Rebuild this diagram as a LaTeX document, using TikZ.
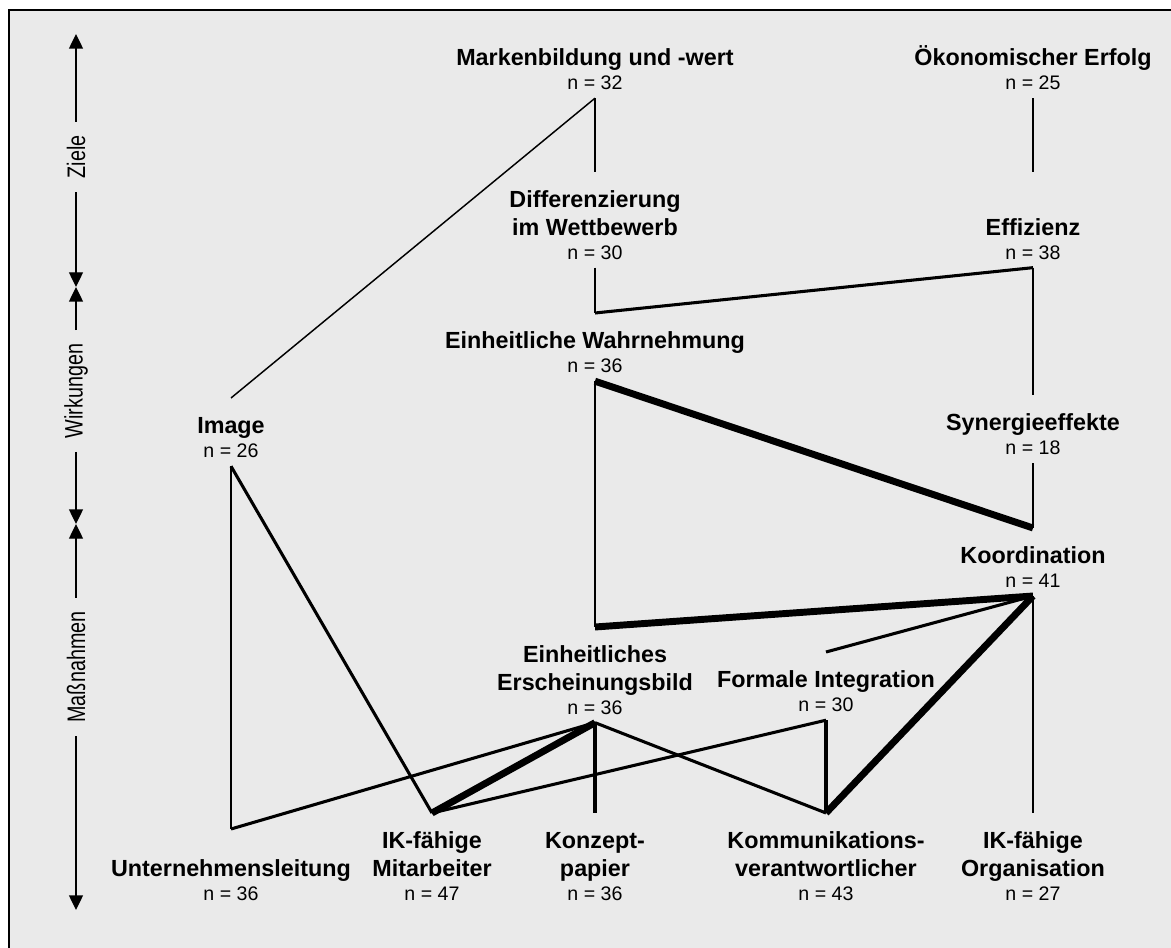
\documentclass[tikz,border=0pt]{standalone}
\usepackage{fontspec}
\setmainfont{Liberation Sans}
\usetikzlibrary{arrows.meta}
\definecolor{panelgray}{HTML}{EAEAEA}
\newcommand{\ttlfont}{\fontsize{17.5}{20.6}\selectfont\bfseries}
\newcommand{\lift}{\rule{0pt}{20.5pt}}
\newcommand{\nv}[1]{\\[-2.5pt]{\fontsize{14.7}{17}\selectfont\mdseries n = #1}}
\newcommand{\narrow}[1]{\scalebox{0.78}[1]{#1}}
\tikzset{
  lbl/.style={anchor=north, align=center, inner xsep=0pt, inner ysep=6pt, font=\ttlfont},
  axlbl/.style={rotate=90, font=\fontsize{19}{22}\selectfont, inner xsep=10pt, inner ysep=0pt},
  axarrow/.style={-{Triangle[length=11pt,width=10.5pt]}, line width=1pt},
  lnthin/.style={line width=1.1pt},
  lnmid/.style={line width=2.3pt},
  lnbold/.style={line width=5.2pt}
}

\begin{document}
\begin{tikzpicture}[x=0.75pt, y=-0.75pt]
  \useasboundingbox (0,0) rectangle (1171,948);
  \clip (0,0) rectangle (1171,948);
  \fill[white] (0,0) rectangle (1171,948);
  \draw[fill=panelgray, line width=1pt] (9,10) rectangle (1190,970);

  % Achse links
  \coordinate (axtop) at (76,34);
  \coordinate (axzw) at (76,287);
  \coordinate (axwm) at (76,524);
  \coordinate (axbot) at (76,910);
  \node[axlbl] (ziele) at (76,157) {\narrow{Ziele}};
  \node[axlbl] (wirk) at (76,391) {\narrow{Wirkungen}};
  \node[axlbl] (mass) at (76,667) {\narrow{Maßnahmen}};
  \draw[axarrow] (ziele) -- (axtop);
  \draw[axarrow] (ziele) -- (axzw);
  \draw[axarrow] (wirk) -- (axzw);
  \draw[axarrow] (wirk) -- (axwm);
  \draw[axarrow] (mass) -- (axwm);
  \draw[axarrow] (mass) -- (axbot);

  % Ziele
  \node[lbl] (mb) at (595,30) {\lift Markenbildung und -wert\nv{32}};
  \node[lbl] (oe) at (1033,30) {\lift Ökonomischer Erfolg\nv{25}};
  \node[lbl] (dw) at (595,172) {\lift Differenzierung\\im Wettbewerb\nv{30}};
  \node[lbl] (ef) at (1033,172) {\lift\\Effizienz\nv{38}};

  % Wirkungen
  \node[lbl] (ew) at (595,313) {\lift Einheitliche Wahrnehmung\nv{36}};
  \node[lbl] (im) at (231,398) {\lift Image\nv{26}};
  \node[lbl] (sy) at (1033,395) {\lift Synergieeffekte\nv{18}};

  % Massnahmen
  \node[lbl] (ko) at (1033,528) {\lift Koordination\nv{41}};
  \node[lbl] (eb) at (595,627) {\lift Einheitliches\\Erscheinungsbild\nv{36}};
  \node[lbl] (fi) at (826,652) {\lift Formale Integration\nv{30}};
  \node[lbl] (ul) at (231,841) {\lift Unternehmensleitung\nv{36}};
  \node[lbl] (ma) at (432,813) {\lift IK-fähige\\Mitarbeiter\nv{47}};
  \node[lbl] (kp) at (595,813) {\lift Konzept-\\papier\nv{36}};
  \node[lbl] (kv) at (826,813) {\lift Kommunikations-\\verantwortlicher\nv{43}};
  \node[lbl] (io) at (1033,813) {\lift IK-fähige\\Organisation\nv{27}};

  % Verbindungen
  \draw[lnthin] (mb.south) -- (im.north);
  \draw[lnthin] (mb.south) -- (dw.north);
  \draw[lnthin] (oe.south) -- (ef.north);
  \draw[lnthin] (ef.south) -- (sy.north);
  \draw[lnthin] (sy.south) -- (ko.north);
  \draw[lnthin] (ko.south) -- (io.north);
  \draw[lnthin] (dw.south) -- (ew.north);
  \draw[line width=1.5pt] (im.south) -- ([yshift=9pt]ul.north);
  \draw[line width=1.5pt] (ew.south) -- (eb.north);
  \draw[lnmid] (ew.north) -- (ef.south);
  \draw[lnmid] (fi.north) -- (ko.south);
  \draw[lnmid] (fi.south) -- (kv.north);
  \draw[lnmid] (eb.south) -- (kv.north);
  \draw[lnmid] (eb.south) -- ([yshift=9pt]ul.north);
  \draw[lnmid] (fi.south) -- (ma.north);
  \draw[lnmid] (im.south) -- (ma.north);
  \draw[line width=3.2pt] (eb.south) -- (kp.north);
  \draw[lnbold] (ew.south) -- (ko.north);
  \draw[lnbold] (eb.north) -- (ko.south);
  \draw[lnbold] (ko.south) -- (kv.north);
  \draw[lnbold] (eb.south) -- (ma.north);
\end{tikzpicture}
\end{document}
